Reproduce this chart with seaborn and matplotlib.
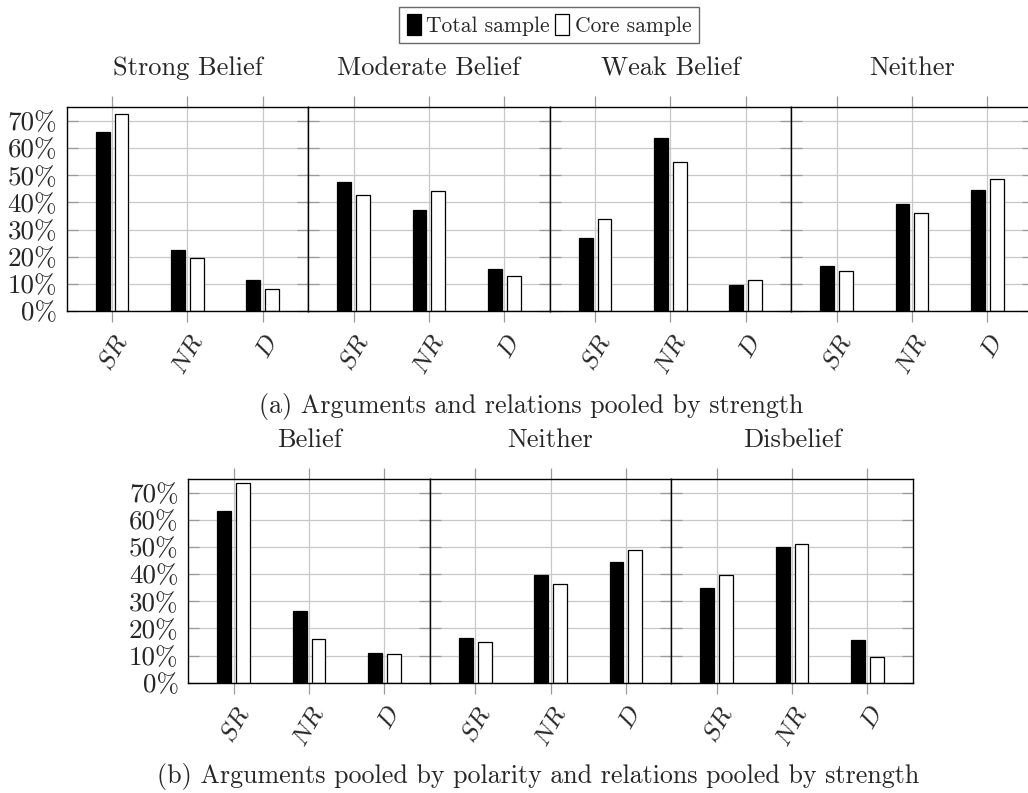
from typing import List

import numpy as np
import pandas as pd
import matplotlib
import matplotlib.pyplot as plt
from matplotlib.patches import Patch
from matplotlib.ticker import FuncFormatter, MultipleLocator
import seaborn as sns

matplotlib.use('Agg')

# relation categories on the x axis
relations: List[str] = ['SR', 'NR', 'D']
samples: List[str] = ['Total sample', 'Core sample']

# (a) arguments and relations pooled by strength
strength_groups: List[str] = ['Strong Belief', 'Moderate Belief', 'Weak Belief', 'Neither']
strength_total: List[List[float]] = [
    [66.0, 22.5, 11.5],
    [47.7, 37.1, 15.5],
    [26.9, 63.8, 9.7],
    [16.4, 39.4, 44.4],
]
strength_core: List[List[float]] = [
    [72.4, 19.4, 8.1],
    [42.9, 44.2, 12.9],
    [34.0, 54.8, 11.3],
    [14.8, 36.1, 48.8],
]

# (b) arguments pooled by polarity, relations pooled by strength
polarity_groups: List[str] = ['Belief', 'Neither', 'Disbelief']
polarity_total: List[List[float]] = [
    [63.1, 26.3, 10.9],
    [16.5, 39.6, 44.3],
    [34.9, 50.0, 15.6],
]
polarity_core: List[List[float]] = [
    [73.5, 16.1, 10.7],
    [14.9, 36.2, 49.0],
    [39.6, 51.0, 9.6],
]

captions: List[str] = [
    '(a) Arguments and relations pooled by strength',
    '(b) Arguments pooled by polarity and relations pooled by strength',
]

W, H = 1028, 793
PANEL_W = 241.5
PANEL_H = 203.6


def to_frame(total: List[float], core: List[float]) -> pd.DataFrame:
    """
    long-form table for one panel
    """
    rows = []
    for rel, t, c in zip(relations, total, core):
        rows.append({'relation': rel, 'sample': samples[0], 'share': t})
        rows.append({'relation': rel, 'sample': samples[1], 'share': c})
    return pd.DataFrame(rows)


def draw_row(fig, groups, totals, cores, left_px, bottom_px) -> None:
    """
    draw one row of adjacent bar panels
    """
    for i, (name, total, core) in enumerate(zip(groups, totals, cores)):
        ax = fig.add_axes([(left_px + i * PANEL_W) / W, 1 - bottom_px / H,
                           PANEL_W / W, PANEL_H / H])
        df = to_frame(total, core)
        sns.barplot(data=df, x='relation', y='share', hue='sample',
                    order=relations, hue_order=samples,
                    palette=['black', 'white'], edgecolor='black',
                    linewidth=0.9, width=0.5, gap=0.27,
                    legend=False, ax=ax)
        ax.set_xlim(-0.6035, 2.6035)
        ax.set_ylim(0, 75)
        ax.yaxis.set_major_locator(MultipleLocator(10))
        ax.yaxis.set_major_formatter(FuncFormatter(lambda v, _: f'{v:.0f}%'))
        ax.set_xlabel('')
        ax.set_ylabel('')
        ax.set_axisbelow(True)
        ax.grid(True, color='#c8c8c8', linewidth=0.9)
        for sp in ax.spines.values():
            sp.set_color('black')
            sp.set_linewidth(1.0)
        ax.tick_params(axis='x', direction='out', top=True, bottom=True,
                       length=8, width=0.9, color='#9a9a9a', pad=6)
        ax.tick_params(axis='y', direction='in', left=True, right=True,
                       length=8, width=0.9, color='#9a9a9a', labelsize=19.5,
                       pad=7)
        ax.set_xticks(range(len(relations)))
        ax.set_xticklabels([f'${r}$' for r in relations], rotation=60,
                           ha='right', rotation_mode='anchor', fontsize=18.5)
        if i > 0:
            ax.tick_params(axis='y', labelleft=False)
        ax.text(0.5, 1 + 39 / PANEL_H, name, transform=ax.transAxes,
                ha='center', va='center', fontsize=19)


if __name__ == '__main__':
    sns.set_theme(style='white')
    plt.rcParams['font.family'] = ['cmr10', 'DejaVu Serif']
    plt.rcParams['mathtext.fontset'] = 'cm'
    plt.rcParams['axes.formatter.use_mathtext'] = True

    fig = plt.figure(figsize=(W / 100, H / 100), dpi=100)
    fig.patch.set_facecolor('white')

    draw_row(fig, strength_groups, strength_total, strength_core, 66.7, 311.0)
    draw_row(fig, polarity_groups, polarity_total, polarity_core, 188.3, 682.7)

    fig.text(259 / W, 1 - 406 / H, captions[0], ha='left', va='center', fontsize=18.7)
    fig.text(157 / W, 1 - 777 / H, captions[1], ha='left', va='center', fontsize=18.7)

    handles = [Patch(facecolor='black', edgecolor='black', linewidth=0.9),
               Patch(facecolor='white', edgecolor='black', linewidth=0.9)]
    leg = fig.legend(handles, samples, loc='center', bbox_to_anchor=(549 / W, 1 - 25 / H),
                     ncol=2, fontsize=15.5, frameon=True, fancybox=False,
                     handlelength=0.65, handleheight=1.1, handletextpad=0.25,
                     columnspacing=0.25, borderpad=0.35, edgecolor='#444444')
    leg.get_frame().set_linewidth(1.0)

    fig.savefig('out.png', dpi=100)
    plt.close(fig)
